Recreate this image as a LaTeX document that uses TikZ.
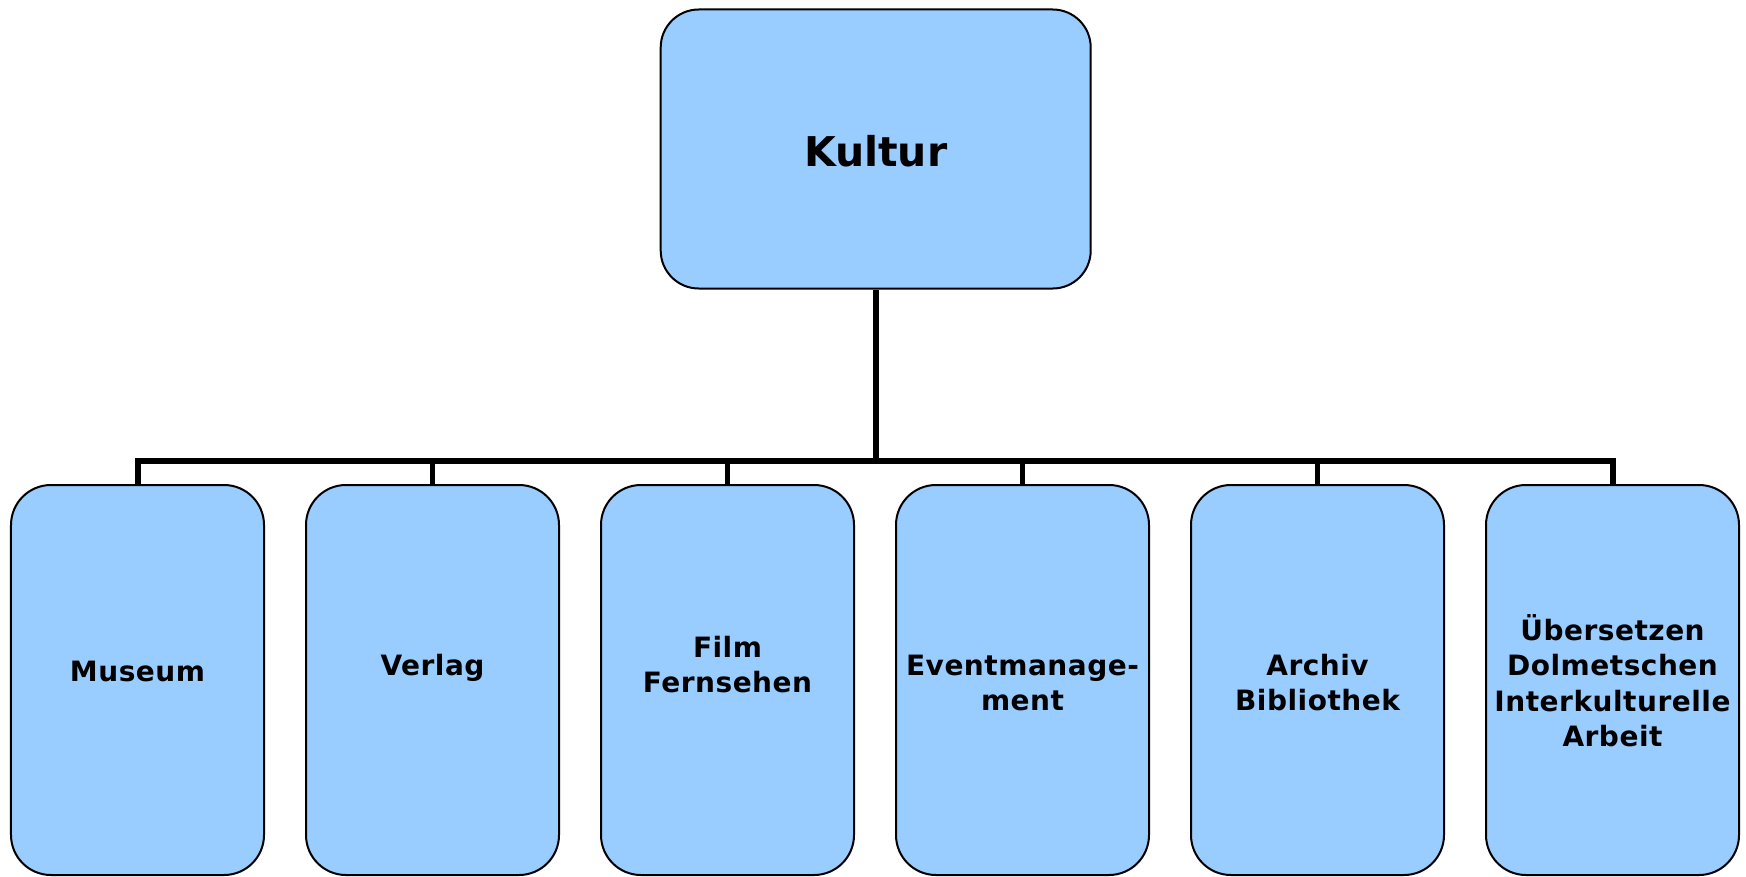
\documentclass[tikz,border=0pt]{standalone}
\usepackage{fontspec}
\setmainfont{DejaVu Sans}
\newfontfamily\childfont[LetterSpace=1.8]{DejaVu Sans}
\begin{document}
\begin{tikzpicture}[x=1bp,y=-1bp,
  box/.style={draw=black,line width=2bp,fill=boxblue,rounded corners=40bp,inner sep=0pt,
    minimum width=253bp,minimum height=390bp},
  topbox/.style={draw=black,line width=2bp,fill=boxblue,rounded corners=38bp,inner sep=0pt,
    minimum width=430bp,minimum height=279bp},
  lbl/.style={anchor=base,inner sep=0pt,font=\childfont\bfseries\fontsize{28bp}{35.5bp}\selectfont},
  conn/.style={draw=black,line width=6bp,line join=miter},
  stub/.style={draw=black,line width=5.5bp}]
\definecolor{boxblue}{HTML}{99CCFF}
\useasboundingbox (0,0) rectangle (1746,876);
\node[topbox] (k) at (875.7,149) {};
\node[anchor=base,inner sep=0pt,font=\bfseries\fontsize{41bp}{49bp}\selectfont] (kt) at (875.7,166.7) {Kultur};
\foreach \i/\cx in {1/137.5,2/432.5,3/727.5,4/1022.5,5/1317.5,6/1612.5}{
  \node[box] (c\i) at (\cx,680) {};
}
\coordinate (bus) at (875.7,461);
\node[lbl] (t1) at (c1.center |- 0,681.7) {Museum};
\node[lbl] (t2) at (c2.center |- 0,675) {Verlag};
\node[lbl] (t3) at (c3.center |- 0,657.3) {\begin{tabular}[t]{@{}c@{}}Film\\Fernsehen\end{tabular}};
\node[lbl] (t4) at (c4.center |- 0,675) {\begin{tabular}[t]{@{}c@{}}Eventmanage-\\ment\end{tabular}};
\node[lbl] (t5) at (c5.center |- 0,675) {\begin{tabular}[t]{@{}c@{}}Archiv\\Bibliothek\end{tabular}};
\node[lbl] (t6) at (c6.center |- 0,640) {\begin{tabular}[t]{@{}c@{}}Übersetzen\\Dolmetschen\\Interkulturelle\\Arbeit\end{tabular}};
\draw[conn] (k.south) -- (bus);
\draw[conn] (c1.north) |- (bus) -| (c6.north);
\foreach \i in {2,3,4,5}{
  \draw[stub] (c\i.north) -- (c\i.north |- bus);
}
\end{tikzpicture}
\end{document}
